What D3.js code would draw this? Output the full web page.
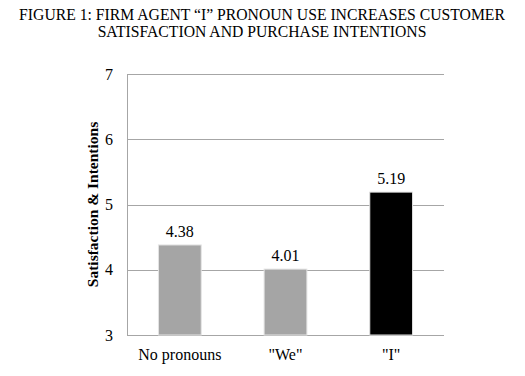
<!DOCTYPE html>
<meta charset="utf-8">
<style>
  body { margin: 0; background: #fff; }
  text { font-family: "Liberation Serif", "Times New Roman", serif; fill: #000; }
  .grid line { stroke: #a6a6a6; stroke-width: 1px; }
  .axis path, .axis line { stroke: none; }
</style>
<body>
<script src="https://d3js.org/d3.v7.min.js"></script>
<script>
  // chart data
  var categories = ["No pronouns", "\"We\"", "\"I\""];
  var values = [4.38, 4.01, 5.19];
  var barColors = ["#a5a5a5", "#a5a5a5", "#000000"];
  var yTicks = [3, 4, 5, 6, 7];
  var titleLines = ["FIGURE 1: FIRM AGENT \u201CI\u201D PRONOUN USE INCREASES CUSTOMER",
                    "SATISFACTION AND PURCHASE INTENTIONS"];

  var W = 525, H = 376;
  var margin = { top: 74, right: 81, bottom: 41, left: 127 },
    width = W - margin.left - margin.right,
    height = H - margin.top - margin.bottom;

  var svg = d3.select("body").append("svg")
    .attr("width", W)
    .attr("height", H);

  // title
  svg.append("g").selectAll("text")
    .data(titleLines)
    .enter().append("text")
    .attr("x", 262)
    .attr("y", function (d, i) { return 19.5 + i * 17; })
    .attr("text-anchor", "middle")
    .style("font-size", "15.7px")
    .text(function (d) { return d; });

  var g = svg.append("g")
    .attr("transform", "translate(" + margin.left + "," + margin.top + ")");

  var x = d3.scaleBand().domain(categories).range([0, width]).paddingInner(0.595).paddingOuter(0.2975);
  var y = d3.scaleLinear().domain([3, 7]).range([height, 0]);

  // gridlines
  g.append("g").attr("class", "grid")
    .selectAll("line")
    .data(yTicks)
    .enter().append("line")
    .attr("x1", 0).attr("x2", width)
    .attr("y1", function (d) { return Math.round(y(d)) + 0.5; })
    .attr("y2", function (d) { return Math.round(y(d)) + 0.5; });

  // left axis line
  g.append("line")
    .attr("x1", 0.5).attr("x2", 0.5)
    .attr("y1", Math.round(y(7)) + 0.5).attr("y2", Math.round(y(3)) + 0.5)
    .attr("stroke", "#a6a6a6");

  // bars
  g.selectAll(".bar")
    .data(values)
    .enter().append("rect")
    .attr("class", "bar")
    .attr("x", function (d, i) { return x(categories[i]); })
    .attr("width", x.bandwidth())
    .attr("y", function (d) { return y(d); })
    .attr("height", function (d) { return y(3) - y(d); })
    .attr("fill", function (d, i) { return barColors[i]; })
    .attr("stroke", "#e4e4e4")
    .attr("stroke-width", 1);

  // value labels
  g.selectAll(".val")
    .data(values)
    .enter().append("text")
    .attr("x", function (d, i) { return x(categories[i]) + x.bandwidth() / 2; })
    .attr("y", function (d) { return y(d) - 8; })
    .attr("text-anchor", "middle")
    .style("font-size", "16px")
    .text(function (d) { return d.toFixed(2); });

  // y axis labels
  var yAxis = g.append("g").attr("class", "axis")
    .call(d3.axisLeft(y).tickValues(yTicks).tickSize(0).tickPadding(14).tickFormat(d3.format("d")));
  yAxis.attr("font-family", null).attr("font-size", null);
  yAxis.selectAll("text").style("font-size", "16px");

  // x axis labels
  var xAxis = g.append("g").attr("class", "axis")
    .attr("transform", "translate(0," + height + ")")
    .call(d3.axisBottom(x).tickSize(0).tickPadding(14));
  xAxis.attr("font-family", null).attr("font-size", null);
  xAxis.selectAll("text").style("font-size", "16px");

  // y axis title
  svg.append("text")
    .attr("transform", "translate(98," + (margin.top + height / 2) + ") rotate(-90)")
    .attr("text-anchor", "middle")
    .style("font-size", "15.5px")
    .style("font-weight", "bold")
    .text("Satisfaction & Intentions");
</script>
</body>
